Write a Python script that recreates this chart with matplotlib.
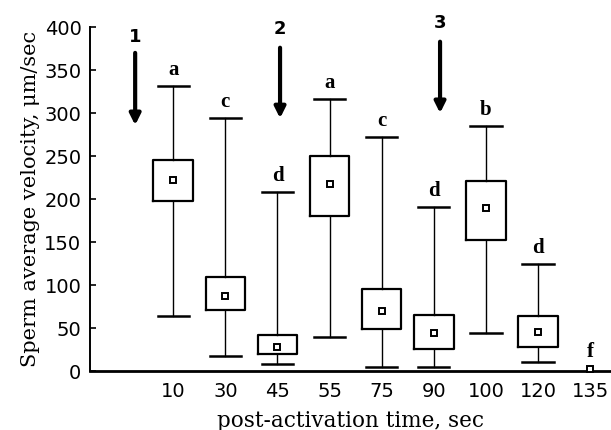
import numpy as np
import matplotlib.pyplot as plt

# =========================
# DATA
# =========================
times = ["10", "30", "45", "55", "75", "90", "100", "120", "135"]
means = [222, 87, 28, 217, 70, 44, 190, 45, 3]
q1 = [198, 71, 20, 180, 49, 26, 153, 28, None]
q3 = [246, 109, 42, 250, 95, 65, 221, 64, None]
whis_lo = [64, 18, 8, 40, 5, 5, 44, 10, None]
whis_hi = [331, 294, 208, 316, 272, 191, 285, 124, None]
letters = ["a", "c", "d", "a", "c", "d", "b", "d", "f"]

arrow_labels = ["1", "2", "3"]
arrow_x = [0.27, 3.05, 6.12]
arrow_top = [370, 376, 383]
arrow_tip = [286, 294, 300]
arrow_text_y = [388, 398, 405]

# =========================
# PLOT
# =========================
plt.rcParams["font.family"] = "DejaVu Sans"

fig = plt.figure(figsize=(6.11, 4.30), dpi=100)
ax = fig.add_axes([0.147, 0.137, 0.853, 0.80])

pos = np.arange(1, len(times) + 1)

stats = []
box_pos = []
for i in range(len(times)):
    if q1[i] is None:
        continue
    stats.append(dict(med=means[i], mean=means[i], q1=q1[i], q3=q3[i],
                      whislo=whis_lo[i], whishi=whis_hi[i], fliers=[]))
    box_pos.append(pos[i])

ax.bxp(stats, positions=box_pos, widths=0.76, showmeans=True,
       boxprops=dict(color="black", linewidth=1.6),
       whiskerprops=dict(color="black", linewidth=1.0),
       capprops=dict(color="black", linewidth=1.8),
       medianprops=dict(linewidth=0),
       meanprops=dict(marker="s", markersize=5, markerfacecolor="white",
                      markeredgecolor="black", markeredgewidth=1.4),
       capwidths=0.6)

# last time point: only the mean marker
for i in range(len(times)):
    if q1[i] is None:
        ax.plot(pos[i], means[i], marker="s", markersize=5, markerfacecolor="white",
                markeredgecolor="black", markeredgewidth=1.4, clip_on=False, zorder=5)

# significance letters
for i, let in enumerate(letters):
    top = whis_hi[i] if whis_hi[i] is not None else means[i]
    ax.text(pos[i], top + 7, let, ha="center", va="bottom",
            family="Liberation Serif", fontweight="bold", fontsize=15)

# arrows
for lab, x, yt, yp, ty in zip(arrow_labels, arrow_x, arrow_top, arrow_tip, arrow_text_y):
    ax.annotate("", xy=(x, yp), xytext=(x, yt),
                arrowprops=dict(arrowstyle="-|>", color="black", lw=3,
                                mutation_scale=16, shrinkA=0, shrinkB=0))
    ax.text(x, ty, lab, ha="center", va="center", fontsize=13,
            fontweight="bold", clip_on=False)

ax.set_xlim(-0.6, 9.4)
ax.set_ylim(0, 400)
ax.set_yticks(np.arange(0, 401, 50))
ax.set_xticks(pos)
ax.set_xticklabels(times)
ax.tick_params(axis="y", direction="in", length=4, width=1.2, labelsize=14, pad=6)
ax.tick_params(axis="x", length=0, labelsize=14, pad=8)

for s in ["top", "right"]:
    ax.spines[s].set_visible(False)
ax.spines["left"].set_linewidth(1.4)
ax.spines["bottom"].set_linewidth(2.0)

ax.set_ylabel("Sperm average velocity, \u03bcm/sec", family="DejaVu Serif",
              fontsize=15, labelpad=3)
ax.set_xlabel("post-activation time, sec", family="DejaVu Serif",
              fontsize=15.5, labelpad=6)

plt.savefig("out.png", dpi=100)
